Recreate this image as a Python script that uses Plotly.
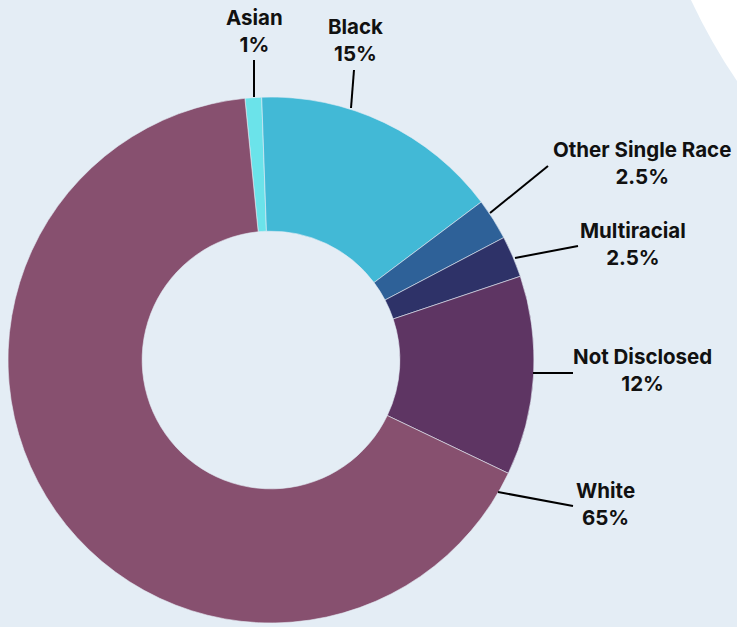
import plotly.graph_objects as go

W, H = 737, 627

# Data
categories = ["Asian", "Black", "Other Single Race", "Multiracial", "Not Disclosed", "White"]
values = [1, 15, 2.5, 2.5, 12, 65]
value_labels = ["1%", "15%", "2.5%", "2.5%", "12%", "65%"]
colors = ["#6be3ea", "#42b9d6", "#2e6198", "#2e3268", "#5e3563", "#87506f"]

# Layout (pixel) positions for labels and leader lines
label_pos = [(254, 31), (355, 40), (642, 163), (633, 244), (642, 370), (605, 504)]
line_pts = [((254, 97), (254, 60)), ((351, 108), (354, 70)), ((490, 213), (548, 166)),
            ((515, 258), (578, 246)), ((533, 373), (573, 373)), ((498, 492), (573, 506))]

cx, cy, R = 271, 360, 263

def px(x):
    return x / W

def py(y):
    return 1 - y / H

fig = go.Figure(go.Pie(
    labels=categories,
    values=values,
    marker=dict(colors=colors, line=dict(color="#e4edf5", width=0.6)),
    hole=0.49,
    sort=False,
    direction="clockwise",
    rotation=-5.7,
    textinfo="none",
    hoverinfo="label+percent",
    showlegend=False,
    domain=dict(x=[px(cx - R), px(cx + R)], y=[py(cy + R), py(cy - R)]),
))

shapes = [dict(type="path", xref="paper", yref="paper",
               path=f"M {px(690)},{py(-2)} Q {px(712)},{py(45)} {px(739)},{py(84)} L {px(739)},{py(-2)} Z",
               fillcolor="white", line=dict(width=0), layer="below")]
for (a, b) in line_pts:
    shapes.append(dict(type="line", xref="paper", yref="paper",
                       x0=px(a[0]), y0=py(a[1]), x1=px(b[0]), y1=py(b[1]),
                       line=dict(color="black", width=2)))

annotations = []
for cat, lab, (x, y) in zip(categories, value_labels, label_pos):
    annotations.append(dict(xref="paper", yref="paper", x=px(x), y=py(y),
                            text=f"<b>{cat}</b><br><b>{lab}</b>", showarrow=False,
                            xanchor="center", yanchor="middle", align="center",
                            font=dict(family="Inter", size=20.5, color="#111111", weight=800)))

fig.update_layout(
    width=W, height=H,
    margin=dict(l=0, r=0, t=0, b=0),
    paper_bgcolor="#e4edf5",
    plot_bgcolor="#e4edf5",
    shapes=shapes,
    annotations=annotations,
)

fig.write_html("out.html", config={"displayModeBar": False},
               post_script="document.body.style.margin='0';document.body.style.overflow='hidden';")
